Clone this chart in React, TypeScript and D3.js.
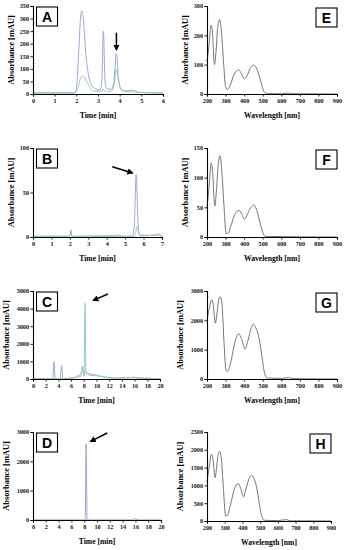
import * as d3 from 'd3';
import React, { useRef, useEffect } from 'react';

// --------------------------------------------------------
// chromatogram traces (time [min], absorbance [mAU])
// --------------------------------------------------------
const a_purple = [[0,5],[1.9,5],[2.0,20],[2.1,150],[2.2,310],[2.25,330],[2.32,300],[2.45,150],[2.6,60],[2.8,25],[3.1,15],[3.18,60],[3.25,250],[3.32,60],[3.4,22],[3.6,18],[3.72,40],[3.85,160],[3.95,60],[4.05,22],[4.3,12],[4.6,15],[4.9,6],[6,5]];
const a_green = [[0,3],[1.9,3],[2.05,15],[2.2,65],[2.3,72],[2.45,55],[2.6,30],[2.9,10],[3.2,12],[3.25,20],[3.3,12],[3.6,10],[3.75,40],[3.85,100],[3.95,50],[4.1,12],[4.6,8],[6,3]];

const b_purple = [[0,1],[2.0,1],[2.06,8],[2.12,1],[4.5,1.5],[4.6,2.5],[4.8,1],[5.4,1],[5.5,15],[5.6,70],[5.7,15],[5.8,2],[6.5,2],[6.8,3.5],[7,1]];
const b_green = [[0,0.5],[2.0,0.5],[2.06,4],[2.12,0.5],[5.45,0.5],[5.55,3],[5.65,12],[5.75,3],[5.85,1],[6.8,2],[7,0.5]];

const c_purple = [[0,30],[3.1,30],[3.3,1000],[3.5,30],[4.3,30],[4.5,750],[4.7,30],[6.5,80],[7,170],[7.5,150],[7.8,700],[8.0,200],[8.2,400],[8.5,350],[9,280],[10,220],[11,130],[12,80],[14,50],[16,100],[17,30],[20,20]];
const c_green = [[0,10],[3.1,10],[3.3,50],[3.5,10],[4.3,10],[4.5,40],[4.7,10],[7,100],[7.9,500],[8.05,200],[8.2,4300],[8.35,300],[9,200],[10,180],[12,60],[16,70],[20,10]];

const d_purple = [[0,0],[8.15,0],[8.3,2600],[8.45,0],[15.5,0],[16,50],[16.5,0],[20,0]];
const d_green = [[0,0],[15.5,0],[16,40],[16.5,0],[20,0]];

// --------------------------------------------------------
// UV-Vis spectra (wavelength [nm], absorbance [mAU])
// --------------------------------------------------------
const e_spec = [[200,110],[210,160],[222,235],[228,220],[240,100],[248,140],[258,230],[268,254],[278,210],[290,100],[300,25],[310,15],[325,30],[345,65],[370,82],[385,70],[400,52],[415,62],[435,90],[450,98],[465,90],[480,65],[495,30],[510,5],[530,1],[600,1],[640,3],[660,1],[900,0]];
const f_spec = [[200,50],[210,80],[223,125],[230,110],[242,52],[250,75],[260,120],[270,137],[280,110],[292,50],[303,6],[312,6],[330,20],[350,38],[372,45],[388,38],[402,30],[420,40],[440,52],[452,54],[468,45],[485,25],[500,8],[515,1],[900,0]];
const g_spec = [[200,2000],[212,2400],[225,2700],[233,2550],[245,1900],[255,2300],[265,2750],[272,2800],[280,2600],[292,1200],[302,300],[310,260],[325,500],[350,1250],[370,1550],[385,1380],[405,1020],[420,1300],[440,1780],[450,1870],[462,1750],[480,1400],[495,800],[510,200],[525,30],[600,20],[640,50],[660,10],[900,0]];
const h_spec = [[200,1100],[212,1500],[225,1880],[233,1750],[246,1220],[256,1600],[266,1920],[273,1950],[282,1700],[294,800],[305,150],[315,150],[330,400],[355,900],[375,1050],[390,920],[406,680],[420,900],[440,1220],[452,1280],[465,1200],[480,950],[495,500],[510,120],[525,20],[600,10],[650,40],[670,5],[900,0]];

// tick values
const ticks_time6 = [0,1,2,3,4,5,6];
const ticks_time7 = [0,1,2,3,4,5,6,7];
const ticks_time20 = [0,2,4,6,8,10,12,14,16,18,20];
const ticks_wave = [200,300,400,500,600,700,800,900];

const PURPLE = '#a4a4d6';
const GREEN = '#96ceb4';
const GREY = '#777777';
const serif = '"Liberation Serif", "Times New Roman", serif';

// one panel = one plot box + its axes
const panels = [
  { key:'A', box:[33,163,6,94],   xd:[0,6],   yd:[0,350],  xt:ticks_time6,  yt:[0,50,100,150,200,250,300,350], xlab:'Time [min]', series:[[a_purple,PURPLE],[a_green,GREEN]], tag:'left', arrow:[[3.85,244],[3.85,176]], ytx:11 },
  { key:'B', box:[33,162,148,237], xd:[0,7],  yd:[0,100],  xt:ticks_time7,  yt:[0,50,100], xlab:'Time [min]', series:[[b_purple,PURPLE],[b_green,GREEN]], tag:'left', arrow:[[4.3,79],[5.4,72]], ytx:11 },
  { key:'C', box:[33,160,291,379], xd:[0,20], yd:[0,5000], xt:ticks_time20, yt:[0,1000,2000,3000,4000,5000], xlab:'Time [min]', series:[[c_purple,PURPLE],[c_green,GREEN]], tag:'left', arrow:[[11.8,4830],[9.5,4470]], ytx:6.5 },
  { key:'D', box:[33,161,432,520], xd:[0,20], yd:[0,3000], xt:ticks_time20, yt:[0,1000,2000,3000], xlab:'Time [min]', series:[[d_purple,PURPLE],[d_green,GREEN]], tag:'left', arrow:[[11.6,2966],[9.0,2680]], ytx:6.5 },
  { key:'E', box:[207,337,6,94],   xd:[200,900], yd:[0,300],  xt:ticks_wave, yt:[0,100,200,300], xlab:'Wavelength [nm]', series:[[e_spec,GREY]], tag:'right', arrow:null, ytx:185 },
  { key:'F', box:[207,337,148,237], xd:[200,900], yd:[0,150], xt:ticks_wave, yt:[0,50,100,150], xlab:'Wavelength [nm]', series:[[f_spec,GREY]], tag:'right', arrow:null, ytx:185 },
  { key:'G', box:[207,337,291,379], xd:[200,900], yd:[0,3000], xt:ticks_wave, yt:[0,1000,2000,3000], xlab:'Wavelength [nm]', series:[[g_spec,GREY]], tag:'right', arrow:null, ytx:180.5 },
  { key:'H', box:[207,331,432,521], xd:[200,900], yd:[0,2500], xt:ticks_wave, yt:[0,500,1000,1500,2000,2500], xlab:'Wavelength [nm]', series:[[h_spec,GREY]], tag:'right', arrow:null, ytx:180.5 },
];

function Panel({ p }) {
  const xAxisRef = useRef();
  const yAxisRef = useRef();
  const [x0, x1, y0, y1] = p.box;

  const x = d3.scaleLinear(p.xd, [x0, x1]);
  const y = d3.scaleLinear(p.yd, [y1, y0]);

  const line = d3.line()
    .x(d => x(d[0]))
    .y(d => y(d[1]))
    .curve(d3.curveMonotoneX);

  useEffect(() => {
    const xAxis = d3.axisBottom(x).tickValues(p.xt).tickSize(2.5).tickPadding(2).tickFormat(d3.format('d'));
    const yAxis = d3.axisLeft(y).tickValues(p.yt).tickSize(2.5).tickPadding(1.5).tickFormat(d3.format('d'));

    const gx = d3.select(xAxisRef.current);
    gx.selectAll('*').remove();
    gx.call(xAxis);
    const gy = d3.select(yAxisRef.current);
    gy.selectAll('*').remove();
    gy.call(yAxis);

    [gx, gy].forEach(g => {
      g.select('.domain').attr('stroke', '#000').attr('stroke-width', 1.1);
      g.selectAll('.tick line').attr('stroke', '#000').attr('stroke-width', 0.9);
      g.selectAll('.tick text')
        .attr('font-family', serif)
        .attr('font-weight', 'bold')
        .attr('font-size', 6.2)
        .attr('fill', '#111');
    });
  });

  // label box position
  const bw = 21, bh = 19;
  const bx = p.tag === 'left' ? x0 + 3.5 : x1 - bw;
  const by = p.tag === 'left' ? y0 + 1 : y0 + 2;

  let arrow = null;
  if (p.arrow) {
    const [[ax0, ay0], [ax1, ay1]] = p.arrow;
    arrow = (
      <line x1={x(ax0)} y1={y(ay0)} x2={x(ax1)} y2={y(ay1)}
        stroke="#000" strokeWidth={1.5} markerEnd="url(#arrowhead)" />
    );
  }

  return (
    <g>
      {p.series.map(([data, col], i) => (
        <path key={i} d={line(data)} fill="none" stroke={col} strokeWidth={1} />
      ))}
      <g ref={xAxisRef} transform={`translate(0,${y1})`} />
      <g ref={yAxisRef} transform={`translate(${x0},0)`} />
      {arrow}
      <rect x={bx} y={by} width={bw} height={bh} fill="#fff" stroke="#000" strokeWidth={1.1} />
      <text x={bx + bw / 2} y={by + bh / 2 + 5} textAnchor="middle"
        fontFamily='"Liberation Sans", Arial, sans-serif' fontWeight="bold" fontSize={14}>{p.key}</text>
      <text x={(x0 + x1) / 2} y={y1 + 24} textAnchor="middle"
        fontFamily={serif} fontWeight="bold" fontSize={7.6}>{p.xlab}</text>
      <text transform={`translate(${p.ytx},${(y0 + y1) / 2}) rotate(-90)`} textAnchor="middle" dy="0.35em"
        fontFamily={serif} fontWeight="bold" fontSize={8.4}>Absorbance [mAU]</text>
    </g>
  );
}

export default function App() {
  return (
    <div style={{ position: 'absolute', left: 0, top: 0 }}>
      <svg width={348} height={550} style={{ display: 'block', background: '#fff' }}>
        <defs>
          <marker id="arrowhead" viewBox="0 0 10 10" refX="8" refY="5"
            markerWidth="4.2" markerHeight="4.2" orient="auto-start-reverse" markerUnits="strokeWidth">
            <path d="M0,0 L10,5 L0,10 z" fill="#000" />
          </marker>
        </defs>
        {panels.map(p => <Panel key={p.key} p={p} />)}
      </svg>
    </div>
  );
}
